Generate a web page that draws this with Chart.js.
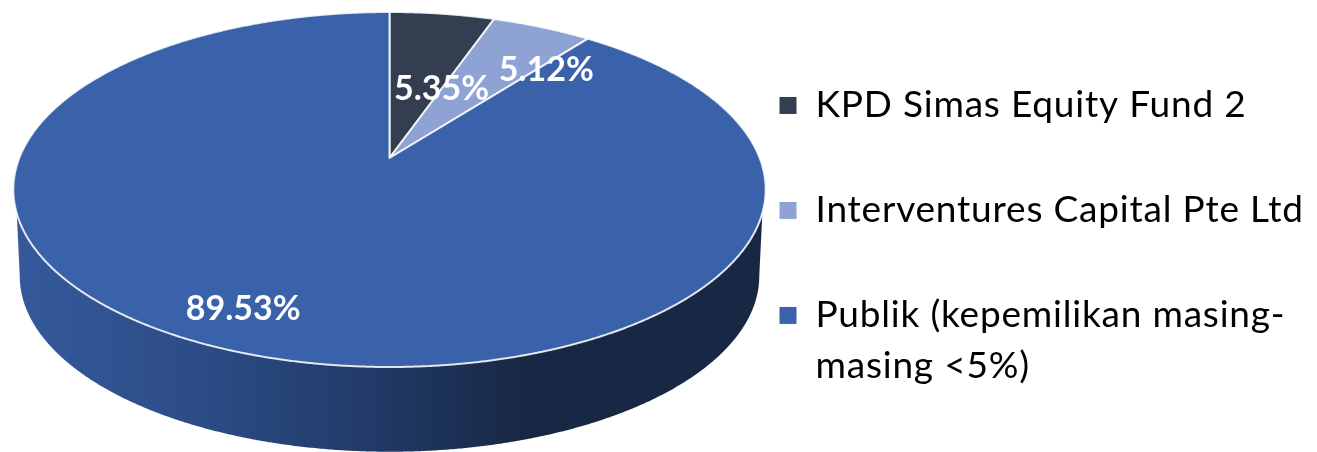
<!DOCTYPE html>
<html>
<head>
<meta charset="utf-8">
<style>html,body{margin:0;padding:0;background:#fff}canvas{display:block}</style>
<script src="https://cdn.jsdelivr.net/npm/chart.js@4"></script>
</head>
<body>
<canvas id="c" width="1317" height="452"></canvas>
<script>
const categories = [
  "KPD Simas Equity Fund 2",
  "Interventures Capital Pte Ltd",
  ["Publik (kepemilikan masing-", "masing <5%)"]
];
const values = [5.35, 5.12, 89.53];
const valueLabels = ["5.35%", "5.12%", "89.53%"];
const sliceColors = ["#333F50", "#8FA2D4", "#3A62AA"];

// Presentation: perspective of the disc, label placement relative to each slice
const view = { ox: 389.5, oy: 158, a: 143.87, c: -0.1775, d: 370.2 };
const wall = { scaleX: 0.983, scaleY: 0.99, topCy: 189.5, botCy: 276 };
const labelPlace = [
  { dDeg: 9.7, r: 0.458 },
  { dDeg: 11.2, r: 0.729 },
  { dDeg: 5.4, r: 0.833 }
];
const legendNudge = { left: 711, dy: 17 };
function project(theta, r) {
  const u = r * Math.sin(theta), v = -r * Math.cos(theta);
  const w = 1 + view.c * v;
  return { x: view.ox + view.d * u / w, y: (view.a * v + view.oy) / w };
}
function lower(p) {
  return { x: view.ox + (p.x - view.ox) * wall.scaleX,
           y: (p.y - wall.topCy) * wall.scaleY + wall.botCy };
}
const toTheta = a => a + Math.PI / 2;
const deg = Math.PI / 180;

const legendPlacement = {
  id: 'legendPlacement',
  afterLayout(chart) {
    const l = chart.legend;
    l.left = legendNudge.left;
    l.top += legendNudge.dy;
    l.bottom += legendNudge.dy;
  },
  beforeDraw(chart) { chart.ctx.letterSpacing = '0.8px'; }
};

const perspectivePie = {
  id: 'perspectivePie',
  beforeDatasetDraw(chart, args) {
    const ctx = chart.ctx, arcs = args.meta.data;
    ctx.save();
    ctx.letterSpacing = '0px';
    // side wall: only the front part of each slice is visible
    const visA = 107.6 * deg, visB = 252.4 * deg, widA = 100 * deg, widB = 260 * deg;
    arcs.forEach(arc => {
      const s = Math.max(toTheta(arc.startAngle), visA), e = Math.min(toTheta(arc.endAngle), visB);
      if (e <= s) return;
      const g = ctx.createLinearGradient(14, 0, 765, 0);
      g.addColorStop(0, '#35599B');
      g.addColorStop(0.25, '#2C4C86');
      g.addColorStop(0.5, '#203864');
      g.addColorStop(0.68, '#182844');
      g.addColorStop(1, '#182844');
      ctx.beginPath();
      for (let t = s; t <= e; t += 0.005) { const p = project(t, 1); ctx.lineTo(p.x, p.y); }
      for (let t = widB; t >= widA; t -= 0.005) { const p = lower(project(t, 1)); ctx.lineTo(p.x, p.y); }
      ctx.closePath();
      ctx.fillStyle = g;
      ctx.fill();
    });
    // top faces
    arcs.forEach((arc, i) => {
      const s = toTheta(arc.startAngle), e = toTheta(arc.endAngle);
      ctx.beginPath();
      const o = project(0, 0);
      ctx.moveTo(o.x, o.y);
      for (let t = s; t < e; t += 0.004) { const p = project(t, 1); ctx.lineTo(p.x, p.y); }
      const pe = project(e, 1);
      ctx.lineTo(pe.x, pe.y);
      ctx.closePath();
      ctx.fillStyle = sliceColors[i];
      ctx.fill();
      ctx.lineJoin = 'round';
      ctx.lineWidth = 2;
      ctx.strokeStyle = 'rgba(255,255,255,0.85)';
      ctx.stroke();
    });
    // value labels
    ctx.font = 'bold 34px Lato, sans-serif';
    ctx.fillStyle = '#fff';
    ctx.textAlign = 'center';
    ctx.textBaseline = 'middle';
    arcs.forEach((arc, i) => {
      const mid = (toTheta(arc.startAngle) + toTheta(arc.endAngle)) / 2;
      const p = project(mid + labelPlace[i].dDeg * deg, labelPlace[i].r);
      ctx.fillText(valueLabels[i], p.x, p.y);
    });
    ctx.restore();
    return false;
  }
};

new Chart(document.getElementById('c'), {
  type: 'pie',
  data: {
    labels: categories,
    datasets: [{ data: values, backgroundColor: sliceColors, borderColor: '#fff', borderWidth: 1 }]
  },
  options: {
    responsive: false,
    animation: false,
    plugins: {
      tooltip: { enabled: false },
      legend: {
        position: 'right',
        labels: {
          boxWidth: 18, boxHeight: 18, padding: 68, color: '#000',
          font: { family: 'Lato, sans-serif', size: 37, lineHeight: 1.38 },
          textAlign: 'left'
        }
      }
    }
  },
  plugins: [legendPlacement, perspectivePie]
});
</script>
</body>
</html>
